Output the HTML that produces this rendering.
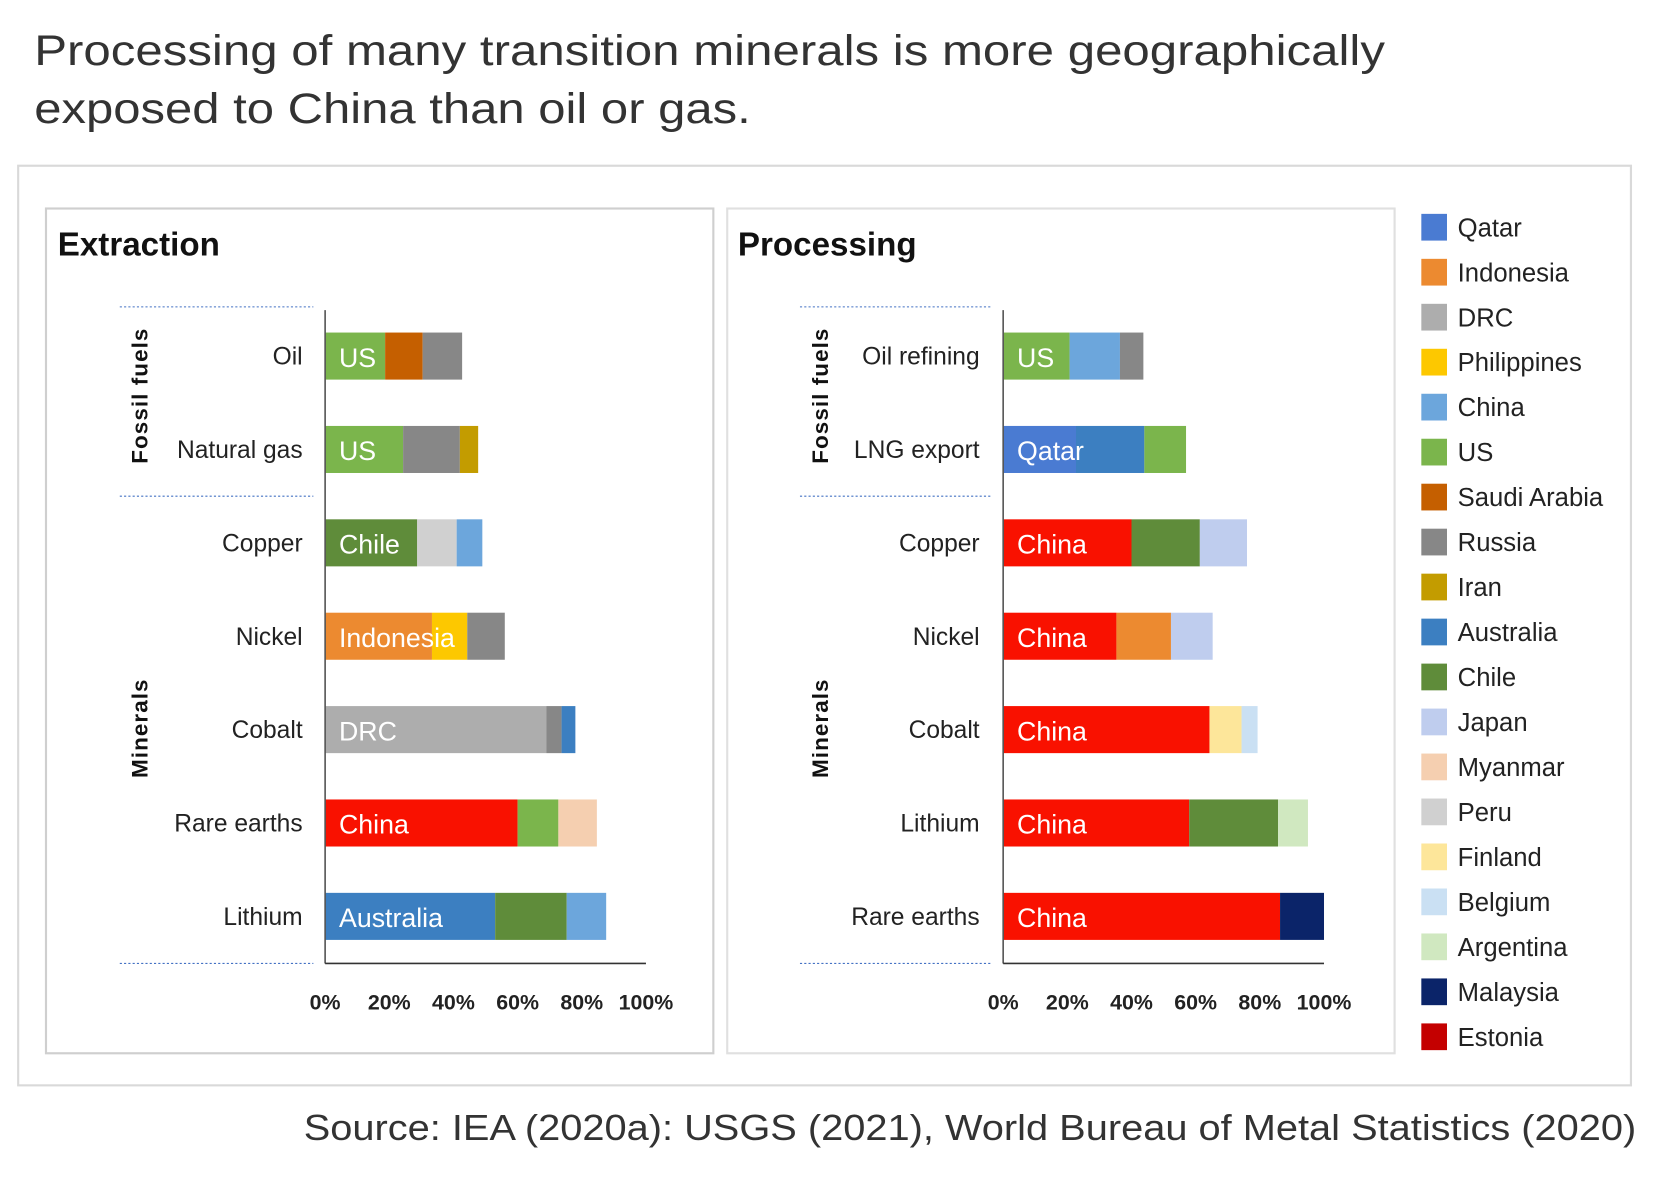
<!DOCTYPE html>
<html><head><meta charset="utf-8">
<style>
html,body{margin:0;padding:0;background:#fff;}
svg{display:block;font-family:"Liberation Sans",Arial,sans-serif;}
</style></head>
<body>
<svg id="chart" width="1678" height="1188" viewBox="0 0 1569 1111" preserveAspectRatio="none" xmlns="http://www.w3.org/2000/svg">
<text x="32" y="61" font-size="40" fill="#333" textLength="1263" lengthAdjust="spacingAndGlyphs">Processing of many transition minerals is more geographically</text>
<text x="32" y="115" font-size="40" fill="#333" textLength="670" lengthAdjust="spacingAndGlyphs">exposed to China than oil or gas.</text>
<rect x="17" y="155" width="1508" height="860" fill="#fff" stroke="#d9d9d9" stroke-width="2"/>
<rect x="43" y="195" width="624" height="790" fill="#fff" stroke="#cfcfcf" stroke-width="2"/>
<rect x="680" y="195" width="624" height="790" fill="#fff" stroke="#e0e0e0" stroke-width="2"/>
<text x="54" y="239" font-size="31" font-weight="bold" fill="#111">Extraction</text>
<text x="690" y="239" font-size="31" font-weight="bold" fill="#111">Processing</text>
<g id="plots"></g>
<g id="legend"></g>
<text x="1530" y="1066" font-size="34" fill="#333" text-anchor="end" textLength="1246" lengthAdjust="spacingAndGlyphs">Source: IEA (2020a): USGS (2021), World Bureau of Metal Statistics (2020)</text>
</svg>
<script>
const extCats = ["Oil","Natural gas","Copper","Nickel","Cobalt","Rare earths","Lithium"];
const extKeys = [["US","Saudi Arabia","Russia"],["US","Russia","Iran"],["Chile","Peru","China"],["Indonesia","Philippines","Russia"],["DRC","Russia","Australia"],["China (red)","US","Myanmar"],["Australia","Chile","China"]];
const extValues = [[18.7,11.7,12.3],[24.3,17.7,5.7],[28.7,12.3,8],[33.3,11,11.7],[69,4.7,4.3],[60,12.7,12],[53,22.3,12.3]];
const extLabels = ["US","US","Chile","Indonesia","DRC","China","Australia"];

const procCats = ["Oil refining","LNG export","Copper","Nickel","Cobalt","Lithium","Rare earths"];
const procKeys = [["US","China","Russia"],["Qatar","Australia","US"],["China (red)","Chile","Japan"],["China (red)","Indonesia","Japan"],["China (red)","Finland","Belgium"],["China (red)","Chile","Argentina"],["China (red)","Malaysia"]];
const procValues = [[20.7,15.7,7.3],[22.7,21.3,13],[40,21.3,14.7],[35.3,17,13],[64.3,10,5],[58,27.7,9.3],[86.3,13.7]];
const procLabels = ["US","Qatar","China","China","China","China","China"];

const xTicks = [0,20,40,60,80,100];
const legendNames = ["Qatar","Indonesia","DRC","Philippines","China","US","Saudi Arabia","Russia","Iran","Australia","Chile","Japan","Myanmar","Peru","Finland","Belgium","Argentina","Malaysia","Estonia"];

const colors = {"Qatar":"#4a7bd2","Indonesia":"#ec8a30","DRC":"#adadad","Philippines":"#fdc800","China":"#6ca6dc","US":"#7bb54c","Saudi Arabia":"#c55f00","Russia":"#878787","Iran":"#c39c00","Australia":"#3c7fc1","Chile":"#5f8c3a","Japan":"#bfcdee","Myanmar":"#f5cfb0","Peru":"#d0d0d0","Finland":"#fde69a","Belgium":"#cae0f3","Argentina":"#d0e8c0","Malaysia":"#0b2469","Estonia":"#c40000","China (red)":"#f91100"};

const NS = "http://www.w3.org/2000/svg";
const plots = document.getElementById('plots');
function mk(tag, attrs, parent){const e=document.createElementNS(NS,tag);for(const k in attrs)e.setAttribute(k,attrs[k]);(parent||plots).appendChild(e);return e;}

function drawPanel(prefix, x0, labelRight, dotX1, dotX2, cats, keys, values, labels){
  const g = mk('g',{});
  
  
  const xs = v => x0 + v * 3;
  const yc = i => 333 + i * 87.33;
  const bh = 44;
  [287,464,901].forEach((y,j)=>{
    const l = mk('line',{x1:dotX1,x2:dotX2,y1:y,y2:y,stroke:"#4472c4","stroke-width":1,"stroke-dasharray":"2,2"},g);
    
    
  });
  const gx = dotX1 + 26;
  const t1 = mk('text',{x:0,y:0,transform:`translate(${gx},${370}) rotate(-90)`,"text-anchor":"middle","font-size":21,"font-weight":"bold",fill:"#111","letter-spacing":"1"},g);
  t1.textContent = "Fossil fuels";
  
  
  const t2 = mk('text',{x:0,y:0,transform:`translate(${gx},${681}) rotate(-90)`,"text-anchor":"middle","font-size":21,"font-weight":"bold",fill:"#111","letter-spacing":"1"},g);
  t2.textContent = "Minerals";
  
  
  cats.forEach((c,i)=>{
    const lt = mk('text',{x:labelRight,y:yc(i)+8,"text-anchor":"end","font-size":23,fill:"#222"},g);
    lt.textContent = c;
    
    
    let acc = 0;
    values[i].forEach((v,j)=>{
      const r = mk('rect',{x:xs(acc),y:yc(i)-bh/2,width:xs(acc+v)-xs(acc),height:bh,fill:colors[keys[i][j]]},g);
      
      
      acc += v;
    });
    const bl = mk('text',{x:x0+13,y:yc(i)+10,"font-size":25,fill:"#fff"},g);
    bl.textContent = labels[i];
    
    
  });
  const ya = mk('line',{x1:x0,x2:x0,y1:290,y2:901,stroke:"#555","stroke-width":1.5},g);
  
  
  const xa = mk('line',{x1:x0,x2:xs(100),y1:901,y2:901,stroke:"#333","stroke-width":1.5},g);
  
  
  xTicks.forEach(t=>{
    const tt = mk('text',{x:xs(t),y:944,"text-anchor":"middle","font-size":20,"font-weight":"bold",fill:"#222"},g);
    tt.textContent = t + "%";
    
    
  });
}
drawPanel('extraction', 304, 283, 112, 293, extCats, extKeys, extValues, extLabels);
drawPanel('processing', 938, 916, 748, 928, procCats, procKeys, procValues, procLabels);

const lg = document.getElementById('legend');
legendNames.forEach((n,i)=>{
  const y = 212 + i * 42.06;
  const r = mk('rect',{x:1329,y:y-12,width:24,height:25,fill:colors[n]},lg);
  
  
  const t = mk('text',{x:1363,y:y+9,"font-size":24,fill:"#222"},lg);
  t.textContent = n;
  
  
});
</script>
</body></html>
